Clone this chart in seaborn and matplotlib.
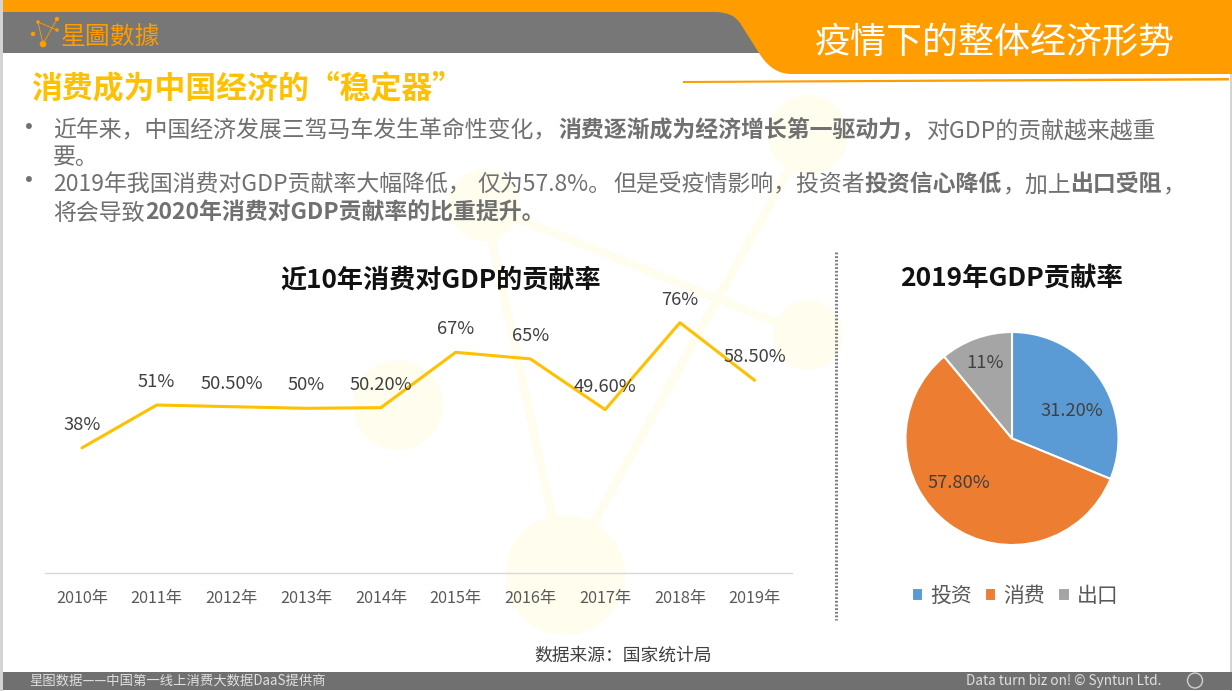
import matplotlib
matplotlib.use('Agg')
import matplotlib.pyplot as plt
from matplotlib.patches import Circle, PathPatch, Polygon, Rectangle
from matplotlib.path import Path
import pandas as pd
import seaborn as sns

years = ['2010年', '2011年', '2012年', '2013年', '2014年', '2015年', '2016年', '2017年', '2018年', '2019年']
consume_rate = [38, 51, 50.5, 50, 50.2, 67, 65, 49.6, 76, 58.5]
rate_labels = ['38%', '51%', '50.50%', '50%', '50.20%', '67%', '65%', '49.60%', '76%', '58.50%']

pie_names = ['投资', '消费', '出口']
pie_values = [31.2, 57.8, 11]
pie_labels = ['31.20%', '57.80%', '11%']
pie_colors = ['#5B9BD5', '#ED7D31', '#A5A5A5']

ORANGE = '#FF9C00'
YELLOW = '#FFC000'
GREY = '#777777'
PALE = '#FFFDEE'
BODY = '#707070'
W, H = 1232, 691

sns.set_theme(style='white')
plt.rcParams['font.family'] = ['Noto Sans CJK SC', 'DejaVu Sans']


def px_axes(fig, left, top, right, bottom):
    return fig.add_axes((left / W, 1 - bottom / H, (right - left) / W, (bottom - top) / H))


def draw_background(ax):
    # pale network picture behind the slide
    for a, b in [((484, 205), (808, 335)), ((808, 135), (565, 575)), ((484, 205), (565, 575))]:
        ax.plot([a[0], b[0]], [a[1], b[1]], color=PALE, lw=6, solid_capstyle='butt', zorder=1)
    for x, y, r in [(398, 405, 45), (565, 575, 60), (808, 335, 35), (808, 135, 40), (484, 205, 36)]:
        ax.add_patch(Circle((x, y), r, color=PALE, lw=0, zorder=1))

    # header
    ax.add_patch(Rectangle((3, 12), 770, 41, color=GREY, lw=0, zorder=2))
    ax.add_patch(Rectangle((3, 0), W - 3, 12, color=ORANGE, lw=0, zorder=3))
    verts = [(715, 12), (733, 12), (740, 23), (759, 53), (772, 74), (791, 74),
             (W, 74), (W, 12), (715, 12)]
    codes = [Path.MOVETO, Path.CURVE3, Path.CURVE3, Path.LINETO, Path.CURVE3, Path.CURVE3,
             Path.LINETO, Path.LINETO, Path.CLOSEPOLY]
    ax.add_patch(PathPatch(Path(verts, codes), fc=ORANGE, ec='none', zorder=3))
    ax.add_patch(Polygon([(683, 81), (1229, 78), (1229, 80.5), (683, 83)], color=ORANGE, lw=0, zorder=3))

    # side edges and footer
    ax.add_patch(Rectangle((0, 0), 3, H, color='#D4D4D4', lw=0, zorder=4))
    ax.add_patch(Rectangle((1230, 74), 2, H, color='#D4D4D4', lw=0, zorder=4))
    ax.add_patch(Rectangle((3, 672), W, 18, color='#707070', lw=0, zorder=5))
    ax.add_patch(Circle((1195, 680.5), 7.5, fc='none', ec='#D0D0D0', lw=1, zorder=6))

    # logo
    dots = [(38, 22, 1.8), (57, 19, 2.2), (57, 30, 1.8), (33, 34, 2.2), (43, 44, 3.3)]
    for a, b in [(0, 4), (1, 4), (0, 2)]:
        ax.plot([dots[a][0], dots[b][0]], [dots[a][1], dots[b][1]], color=ORANGE, lw=0.6, zorder=4)
    for x, y, r in dots:
        ax.add_patch(Circle((x, y), r, color=ORANGE, lw=0, zorder=4))

    # divider
    ax.plot([836, 836], [252, 620], color='#7F7F7F', lw=2.2, ls=(0, (0.6, 0.6)), zorder=2)


def draw_texts(ax):
    ax.text(61, 37, '星圖數據', color=ORANGE, fontsize=17.9, va='center', zorder=6)
    ax.text(815, 43, '疫情下的整体经济形势', color='white', fontsize=25.9, va='center', zorder=6)
    ax.text(31, 88.5, '消费成为中国经济的“稳定器”', color=YELLOW, fontsize=22.2, fontweight='bold', va='center', zorder=6)

    for y in (129, 182):
        ax.text(29, y, '•', color=BODY, fontsize=20, ha='center', va='center', zorder=6)

    runs = [
        (53, 137, '近年来，中国经济发展三驾马车发生革命性变化，', False),
        (558, 137, '消费逐渐成为经济增长第一驱动力，', True),
        (927, 137, '对GDP的贡献越来越重', False),
        (53, 164, '要。', False),
        (53, 191, '2019年我国消费对GDP贡献率大幅降低，', False),
        (477, 191, '仅为57.8%。', False),
        (613, 191, '但是受疫情影响，投资者', False),
        (864, 191, '投资信心降低', True),
        (1003, 191, '，加上', False),
        (1070, 191, '出口受阻', True),
        (1163, 191, '，', False),
        (53, 220, '将会导致', False),
        (145, 220, '2020年消费对GDP贡献率的比重提升。', True),
    ]
    for x, y, s, bold in runs:
        ax.text(x, y, s, color=BODY, fontsize=16.5, fontweight='bold' if bold else 'normal',
                va='baseline', zorder=6)

    ax.text(441, 280.5, '近10年消费对GDP的贡献率', color='#111111', fontsize=18.8, fontweight='bold',
            ha='center', va='center', zorder=6)
    ax.text(1012, 278.5, '2019年GDP贡献率', color='#111111', fontsize=19, fontweight='bold',
            ha='center', va='center', zorder=6)
    ax.text(623, 655.5, '数据来源：国家统计局', color='#404040', fontsize=12.8, ha='center', va='center', zorder=6)
    ax.text(29, 680.5, '星图数据——中国第一线上消费大数据DaaS提供商', color='#E0E0E0', fontsize=9.6, va='center', zorder=6)
    ax.text(966, 680.5, 'Data turn biz on! © Syntun Ltd.', color='#E0E0E0', fontsize=9.8, va='center', zorder=6)


fig = plt.figure(figsize=(W / 100, H / 100), dpi=100, facecolor='white')

bg = fig.add_axes((0, 0, 1, 1))
bg.set_xlim(0, W)
bg.set_ylim(H, 0)
bg.axis('off')
draw_background(bg)
draw_texts(bg)

# line chart
df = pd.DataFrame({'year': years, 'rate': consume_rate})
ax = px_axes(fig, 44.6, 309.5, 792, 573)
ax.patch.set_alpha(0)
sns.lineplot(data=df, x='year', y='rate', color=YELLOW, lw=2.2, sort=False, ax=ax, solid_capstyle='round')
ax.set_xlim(-0.5, 9.5)
ax.set_ylim(0, 80)
ax.set_xlabel('')
ax.set_ylabel('')
ax.set_yticks([])
ax.tick_params(axis='x', length=0, pad=12, labelsize=11.7, labelcolor='#595959')
sns.despine(ax=ax, left=True)
ax.spines['bottom'].set_color('#D9D9D9')
ax.spines['bottom'].set_linewidth(1)
for i, (v, s) in enumerate(zip(consume_rate, rate_labels)):
    ax.annotate(s, (i, v), xytext=(0, 16.5), textcoords='offset points', ha='center', va='center',
                fontsize=13.2, color='#404040', annotation_clip=False)

# pie chart
ax_pie = px_axes(fig, 1012 - 106.5, 438.5 - 106.5, 1012 + 106.5, 438.5 + 106.5)
ax_pie.patch.set_alpha(0)
wedges, _ = ax_pie.pie(pie_values, colors=pie_colors, startangle=90, counterclock=False, radius=1,
                       wedgeprops={'edgecolor': 'white', 'linewidth': 1.5})
ax_pie.set_xlim(-1, 1)
ax_pie.set_ylim(-1, 1)
for (x, y), s in zip([(1072, 411), (959, 483), (985, 363)], pie_labels):
    ax_pie.text(x, y, s, transform=bg.transData, ha='center', va='center', fontsize=13.2, color='#404040')
ax_pie.legend(wedges, pie_names, loc='center', bbox_to_anchor=(1015, 596), bbox_transform=bg.transData,
              ncol=3, frameon=False, fontsize=15, labelcolor='#595959', borderpad=0,
              handlelength=0.55, handleheight=0.55, handletextpad=0.34, columnspacing=0.62)

fig.savefig('out.png', dpi=100)
